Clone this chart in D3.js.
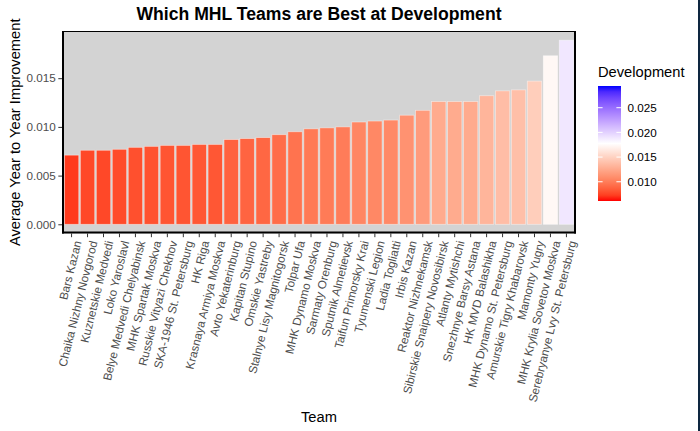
<!DOCTYPE html>
<html>
<head>
<meta charset="utf-8">
<script src="https://cdn.jsdelivr.net/npm/d3@7"></script>
<style>
  html, body { margin: 0; padding: 0; background: #fff; }
  svg { display: block; font-family: "Liberation Sans", Arial, sans-serif; }
</style>
</head>
<body>
<svg id="chart" width="700" height="431"></svg>
<script>
// ---- Data ----
const teams = [
  "Bars Kazan", "Chaika Nizhny Novgorod", "Kuznetskie Medvedi", "Loko Yaroslavl",
  "Belye Medvedi Chelyabinsk", "MHK Spartak Moskva", "Russkie Vityazi Chekhov",
  "SKA-1946 St. Petersburg", "HK Riga", "Krasnaya Armiya Moskva", "Avto Yekaterinburg",
  "Kapitan Stupino", "Omskie Yastreby", "Stalnye Lisy Magnitogorsk", "Tolpar Ufa",
  "MHK Dynamo Moskva", "Sarmaty Orenburg", "Sputnik Almetievsk", "Taifun Primorsky Krai",
  "Tyumenski Legion", "Ladia Togliatti", "Irbis Kazan", "Reaktor Nizhnekamsk",
  "Sibirskie Snaipery Novosibirsk", "Atlanty Mytishchi", "Snezhnye Barsy Astana",
  "HK MVD Balashikha", "MHK Dynamo St. Petersburg", "Amurskie Tigry Khabarovsk",
  "Mamonty Yugry", "MHK Krylia Sovetov Moskva", "Serebryanye Lvy St. Petersburg"
];
const improvement = [
  0.0071, 0.0076, 0.0076, 0.0077, 0.0079, 0.0080, 0.0081, 0.0081, 0.0082, 0.0082,
  0.0087, 0.0088, 0.0089, 0.0092, 0.0095, 0.0098, 0.0099, 0.0100, 0.0105, 0.0106,
  0.0107, 0.0112, 0.0117, 0.0126, 0.0126, 0.0126, 0.0132, 0.0137, 0.0138, 0.0147,
  0.0173, 0.0189
];
const yTicks = [0.000, 0.005, 0.010, 0.015];
const legendTicks = [0.010, 0.015, 0.020, 0.025];
const fillLimits = [0.0061, 0.0294];

const title = "Which MHL Teams are Best at Development";
const xTitle = "Team";
const yTitle = "Average Year to Year Improvement";
const legendTitle = "Development";

// ---- Layout ----
const svg = d3.select("#chart");
const panel = { left: 62, right: 576, top: 31, bottom: 233.5 };

const data = teams.map((t, i) => ({ team: t, value: improvement[i] }));

const x = d3.scaleBand()
  .domain(teams)
  .range([panel.left, panel.right])
  .paddingInner(0.1)
  .paddingOuter(0.15);

const yMax = d3.max(improvement);
const ext = yMax - 0;
const y = d3.scaleLinear()
  .domain([0 - 0.05 * ext, yMax + 0.05 * ext])
  .range([panel.bottom, panel.top]);

const mid = (fillLimits[0] + fillLimits[1]) / 2;
const color = d3.scaleLinear()
  .domain([fillLimits[0], mid, fillLimits[1]])
  .range(["#FF0000", "#FFFFFF", "#0000FF"])
  .interpolate(d3.interpolateLab)
  .clamp(true);

// Panel background
svg.append("rect")
  .attr("x", panel.left).attr("y", panel.top)
  .attr("width", panel.right - panel.left).attr("height", panel.bottom - panel.top)
  .attr("fill", "#D3D3D3");

// Bars
svg.append("g").selectAll("rect").data(data).join("rect")
  .attr("x", d => x(d.team))
  .attr("width", x.bandwidth())
  .attr("y", d => y(d.value))
  .attr("height", d => y(0) - y(d.value))
  .attr("fill", d => color(d.value))
  .attr("stroke", "#ffffff")
  .attr("stroke-opacity", 0.5)
  .attr("stroke-width", 0.8);

// Panel border (thin top) and axis lines
svg.append("line")
  .attr("x1", panel.left).attr("x2", panel.right)
  .attr("y1", panel.top + 0.5).attr("y2", panel.top + 0.5)
  .attr("stroke", "#000").attr("stroke-width", 1);
svg.append("line")
  .attr("x1", panel.right - 1).attr("x2", panel.right - 1)
  .attr("y1", panel.top).attr("y2", panel.bottom)
  .attr("stroke", "#000").attr("stroke-width", 2);

// Y axis
const yAxis = d3.axisLeft(y).tickValues(yTicks).tickFormat(d3.format(".3f")).tickSizeOuter(0).tickSize(3.7).tickPadding(2.5);
const gy = svg.append("g").attr("transform", `translate(${panel.left},0)`).call(yAxis);
gy.select(".domain").remove();
gy.selectAll(".tick line").attr("stroke", "#333333");
gy.selectAll(".tick text").attr("fill", "#4D4D4D").style("font-size", "11.7px")
  .style("font-family", "'Liberation Sans', Arial, sans-serif");
svg.append("line")
  .attr("x1", panel.left + 1).attr("x2", panel.left + 1)
  .attr("y1", panel.top).attr("y2", panel.bottom)
  .attr("stroke", "#000").attr("stroke-width", 2);

// X axis
const xAxis = d3.axisBottom(x).tickSizeOuter(0).tickSize(3.7).tickFormat("");
const gx = svg.append("g").attr("transform", `translate(0,${panel.bottom})`).call(xAxis);
gx.select(".domain").remove();
gx.selectAll(".tick line").attr("stroke", "#333333");
svg.append("line")
  .attr("x1", panel.left).attr("x2", panel.right)
  .attr("y1", panel.bottom - 1).attr("y2", panel.bottom - 1)
  .attr("stroke", "#000").attr("stroke-width", 2);

svg.append("g").selectAll("text").data(teams).join("text")
  .attr("transform", d => `translate(${x(d) + x.bandwidth() / 2},${panel.bottom + 6}) rotate(-76)`)
  .attr("text-anchor", "end")
  .attr("dy", "0.88em")
  .attr("fill", "#4D4D4D")
  .style("font-size", "11.7px")
  .text(d => d);

// Titles
svg.append("text")
  .attr("x", (panel.left + panel.right) / 2).attr("y", 20)
  .attr("text-anchor", "middle")
  .style("font-size", "17.6px").style("font-weight", "bold")
  .attr("fill", "#000")
  .text(title);

svg.append("text")
  .attr("x", (panel.left + panel.right) / 2).attr("y", 422)
  .attr("text-anchor", "middle")
  .style("font-size", "14.7px")
  .attr("fill", "#000")
  .text(xTitle);

svg.append("text")
  .attr("transform", `translate(20,${(panel.top + panel.bottom) / 2}) rotate(-90)`)
  .attr("text-anchor", "middle")
  .style("font-size", "14.7px")
  .attr("fill", "#000")
  .text(yTitle);

// Legend
const lg = { x: 598, w: 23, top: 86, bottom: 201 };
const ly = d3.scaleLinear().domain(fillLimits).range([lg.bottom, lg.top]);

const defs = svg.append("defs");
const grad = defs.append("linearGradient").attr("id", "devgrad")
  .attr("x1", "0").attr("y1", "1").attr("x2", "0").attr("y2", "0");
d3.range(0, 1.0001, 0.05).forEach(t => {
  const v = fillLimits[0] + t * (fillLimits[1] - fillLimits[0]);
  grad.append("stop").attr("offset", t).attr("stop-color", color(v));
});

svg.append("text")
  .attr("x", lg.x).attr("y", 77)
  .style("font-size", "14.7px")
  .attr("fill", "#000")
  .text(legendTitle);

svg.append("rect")
  .attr("x", lg.x).attr("y", lg.top)
  .attr("width", lg.w).attr("height", lg.bottom - lg.top)
  .attr("fill", "url(#devgrad)");

const lt = svg.append("g");
legendTicks.forEach(v => {
  const yy = ly(v);
  lt.append("line").attr("x1", lg.x).attr("x2", lg.x + lg.w * 0.2)
    .attr("y1", yy).attr("y2", yy).attr("stroke", "#fff").attr("stroke-width", 1);
  lt.append("line").attr("x1", lg.x + lg.w * 0.8).attr("x2", lg.x + lg.w)
    .attr("y1", yy).attr("y2", yy).attr("stroke", "#fff").attr("stroke-width", 1);
  lt.append("text").attr("x", lg.x + lg.w + 6.5).attr("y", yy)
    .attr("dy", "0.36em")
    .style("font-size", "11.7px")
    .attr("fill", "#000")
    .text(d3.format(".3f")(v));
});

// Right edge border line
svg.append("rect").attr("x", 698).attr("y", 0).attr("width", 2).attr("height", 431)
  .attr("fill", "#0E2640");
</script>
</body>
</html>
